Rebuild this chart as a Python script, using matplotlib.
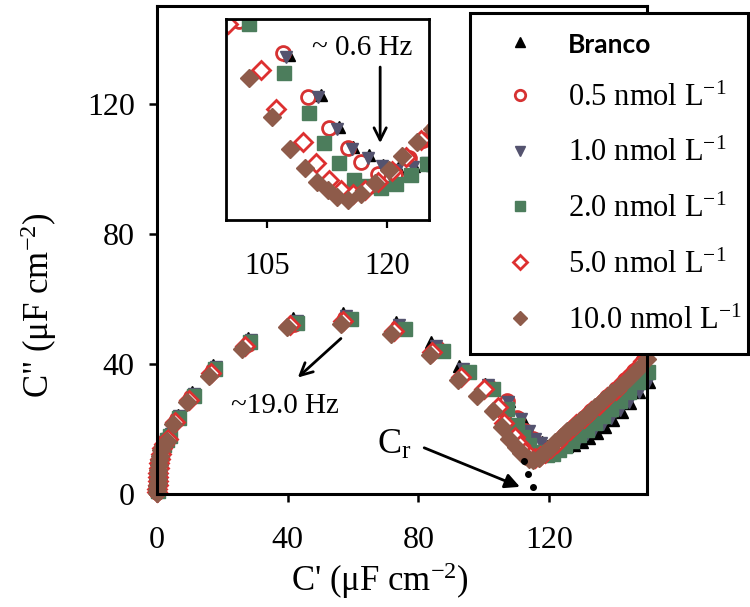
import matplotlib
matplotlib.use("Agg")
import matplotlib.pyplot as plt

plt.rcParams['font.family'] = 'Liberation Serif'
plt.rcParams['mathtext.fontset'] = 'custom'
plt.rcParams['mathtext.rm'] = 'Liberation Serif'
plt.rcParams['mathtext.it'] = 'Liberation Serif:italic'
plt.rcParams['mathtext.bf'] = 'Liberation Serif:bold'

# Complex capacitance plots, C' vs C'' (uF cm-2)
labels = ['Branco', '0.5 nmol L$^{-1}$', '1.0 nmol L$^{-1}$',
          '2.0 nmol L$^{-1}$', '5.0 nmol L$^{-1}$', '10.0 nmol L$^{-1}$']

x_branco = [0.2, 0.3, 0.3, 0.4, 0.5, 0.6, 0.7, 0.9, 1.2, 1.6, 2.2, 2.9,
            4.0, 6.3, 10.6, 17.2, 28.0, 41.5, 56.8, 73.2, 84.0, 92.5, 100.4,
            107.75, 111.75, 114.0, 115.75, 117.75, 119.5, 121.4, 123.4,
            125.6, 127.8, 130.0, 132.3, 134.7, 137.1, 139.6, 142.2, 144.9,
            147.7, 150.5]
y_branco = [1.0, 2.1, 3.3, 4.6, 5.9, 7.3, 8.8, 10.4, 12.1, 13.8, 15.6, 17.3,
            19.0, 24.3, 31.2, 39.6, 48.0, 54.0, 55.5, 53.0, 46.6, 39.2, 33.8,
            28.5, 23.5, 19.5, 17.0, 16.0, 14.75, 14.4, 14.6,
            14.8, 15.2, 16.0, 17.2, 18.7, 20.6, 22.8, 25.3, 28.1,
            31.2, 34.5]

x_05 = [0.1, 0.2, 0.2, 0.3, 0.4, 0.5, 0.6, 0.8, 1.0, 1.4, 1.9, 2.6,
        3.6, 6.0, 10.4, 17.2, 27.8, 42.0, 57.6, 73.8, 85.8, 94.5, 101.5,
        107.0, 110.1, 112.7, 115.1, 116.8, 118.9, 121.0, 122.8, 124.5,
        126.4, 128.5, 130.7, 133.0, 135.4, 137.9, 140.5, 143.2, 146.0, 148.9]
y_05 = [0.7, 1.8, 2.9, 4.1, 5.4, 6.8, 8.2, 9.8, 11.4, 13.0, 14.7, 16.3,
        17.6, 23.0, 29.8, 38.0, 46.2, 52.4, 54.0, 51.4, 44.8, 37.6, 32.8,
        28.7, 23.3, 19.4, 16.9, 15.1, 13.6, 13.5, 15.6, 17.9,
        19.7, 21.5, 23.4, 25.4, 27.5, 29.8, 32.3, 35.0, 37.9, 41.0]

x_10 = [0.2, 0.3, 0.3, 0.4, 0.5, 0.6, 0.8, 1.0, 1.3, 1.7, 2.3, 3.1,
        4.2, 6.8, 11.4, 18.0, 28.8, 42.8, 58.0, 74.2, 85.5, 93.8, 101.2,
        107.4, 111.4, 113.8, 115.6, 117.6, 119.4, 121.3, 123.2, 125.0,
        127.0, 129.2, 131.5, 133.9, 136.4, 139.0, 141.7, 144.5, 147.4, 150.3]
y_10 = [0.9, 2.0, 3.2, 4.4, 5.7, 7.1, 8.6, 10.2, 11.8, 13.5, 15.2, 16.9,
        18.3, 23.9, 30.8, 39.0, 47.3, 53.3, 54.8, 52.0, 45.6, 38.5, 33.6,
        28.2, 23.2, 19.3, 16.8, 15.7, 14.6, 14.2, 14.5, 15.0,
        15.9, 17.0, 18.3, 19.8, 21.5, 23.5, 25.8, 28.4, 31.3, 34.5]

x_20 = [0.2, 0.3, 0.3, 0.4, 0.5, 0.6, 0.7, 0.9, 1.2, 1.6, 2.2, 3.0,
        4.0, 6.6, 11.2, 17.8, 28.6, 43.0, 59.4, 75.8, 87.6, 95.6, 102.8,
        107.1, 110.3, 112.1, 114.0, 115.9, 117.6, 119.3, 121.1, 123.0,
        125.0, 127.1, 129.3, 131.6, 134.0, 136.5, 139.1, 141.8, 144.6,
        147.5, 150.4]
y_20 = [0.8, 1.9, 3.0, 4.2, 5.5, 6.9, 8.4, 10.0, 11.6, 13.3, 15.0, 16.6,
        17.9, 23.5, 30.2, 38.5, 46.7, 52.6, 53.9, 50.8, 44.1, 37.6, 32.4,
        26.2, 21.2, 17.5, 15.0, 12.9, 12.1, 11.9, 12.4, 13.5,
        14.9, 16.4, 18.0, 19.8, 21.8, 23.9, 26.2, 28.7, 31.4,
        34.3, 37.4]

x_50 = [0.1, 0.1, 0.2, 0.2, 0.3, 0.4, 0.5, 0.6, 0.8, 1.1, 1.5, 2.2,
        3.4, 5.5, 9.8, 16.6, 27.0, 40.8, 57.0, 72.4, 84.2, 93.0, 100.2,
        104.3, 106.2, 109.5, 111.1, 112.7, 114.2, 115.7, 117.3, 118.9,
        120.6, 122.4, 124.3, 126.3, 128.4, 130.6, 132.9, 135.3, 137.8,
        140.4, 143.1, 145.9, 148.8]
y_50 = [0.6, 1.6, 2.7, 3.9, 5.1, 6.5, 7.9, 9.4, 10.9, 12.4, 14.0, 15.5,
        17.0, 22.2, 29.0, 37.2, 45.4, 51.9, 53.2, 50.2, 43.5, 36.0, 32.4,
        26.6, 21.8, 17.6, 15.0, 12.9, 11.6, 11.2, 11.6, 12.6,
        14.0, 15.8, 17.9, 19.8, 21.6, 23.5, 25.4, 27.5, 29.7,
        32.1, 34.8, 37.7, 40.8]

x_100 = [0.0, 0.1, 0.1, 0.2, 0.2, 0.3, 0.4, 0.5, 0.7, 0.9, 1.3, 1.9,
         3.0, 5.0, 9.1, 15.8, 26.0, 39.9, 56.3, 71.7, 83.5, 92.2, 98.0,
         102.8, 105.7, 107.9, 109.8, 111.3, 112.6, 113.8, 115.1, 116.8,
         118.5, 120.2, 121.9, 123.7, 125.6, 127.6, 129.7, 131.9, 134.2,
         136.6, 139.1, 141.7, 144.4, 147.2, 150.1]
y_100 = [0.4, 1.3, 2.4, 3.5, 4.7, 6.0, 7.4, 8.8, 10.3, 11.8, 13.4, 14.9,
         16.2, 21.5, 28.2, 36.4, 44.7, 51.3, 52.4, 49.3, 42.6, 35.0, 30.2,
         25.6, 20.7, 16.8, 14.4, 12.7, 11.6, 10.8, 10.4, 11.2,
         12.5, 14.2, 15.9, 17.6, 19.3, 21.0, 22.8, 24.7, 26.7,
         28.8, 31.0, 33.3, 35.8, 38.5, 41.4]

# extrapolation of the low-frequency semicircle down to the real axis
x_cr = [112.2, 113.7, 115.2]
y_cr = [10.2, 6.1, 2.3]

series = [(x_branco, y_branco), (x_05, y_05), (x_10, y_10),
          (x_20, y_20), (x_50, y_50), (x_100, y_100)]
styles = [
    dict(marker='^', color='black', mfc='black', ms=9),
    dict(marker='o', color='#d63232', mfc='white', mew=2.0, ms=10),
    dict(marker='v', color='#54536f', mfc='#54536f', ms=9),
    dict(marker='s', color='#4c7d5c', mfc='#4c7d5c', ms=10),
    dict(marker='D', color='#dd3030', mfc='white', mew=2.0, ms=9),
    dict(marker='D', color='#8e5b4a', mfc='#8e5b4a', ms=9),
]

fig = plt.figure(figsize=(7.5, 6.07), dpi=100)
ax = fig.add_axes([157 / 750, 1 - 494 / 607, 490 / 750, 488 / 607])

handles = []
for (xs, ys), st in zip(series, styles):
    h, = ax.plot(xs, ys, ls='none', clip_on=False, **st)
    handles.append(h)
ax.plot(x_cr, y_cr, ls='none', marker='o', ms=4, color='black', clip_on=False)

ax.set_xlim(0, 150)
ax.set_ylim(0, 150)
ax.set_xticks([0, 40, 80, 120])
ax.set_yticks([0, 40, 80, 120])
ax.tick_params(direction='out', length=6, width=1.8, labelsize=23)
ax.tick_params(axis='x', pad=17)
ax.tick_params(axis='y', pad=10)
for sp in ax.spines.values():
    sp.set_linewidth(2.2)

ax.set_xlabel("C' (\u03bcF cm$^{-2}$)", fontsize=25)
ax.set_ylabel('C" (\u03bcF cm$^{-2}$)', fontsize=25)
ax.xaxis.set_label_coords(0.455, -0.135)
ax.yaxis.set_label_coords(-0.20, 0.387)

arrow = dict(arrowstyle='->', lw=2, color='black',
             mutation_scale=22, shrinkA=0, shrinkB=0)
ax.annotate('', xy=(43.1, 35.8), xytext=(56.3, 47.8), arrowprops=arrow)
ax.text(39.3, 27.2, '~19.0 Hz', fontsize=21, ha='center', va='center')
ax.annotate('', xy=(111.1, 2.2), xytext=(81.8, 14.2),
            arrowprops=dict(arrowstyle='-|>', lw=2, color='black',
                            mutation_scale=22, shrinkA=0, shrinkB=0))
ax.text(72.5, 15.0, 'C$_{\\mathrm{r}}$', fontsize=26, ha='center', va='center')

# zoom on the low-frequency minimum
axin = fig.add_axes([226 / 750, 1 - 220 / 607, 203 / 750, 201 / 607])
for (xs, ys), st in zip(series, styles):
    axin.plot(xs, ys, ls='none', **st)
axin.set_xlim(99.9, 125.25)
axin.set_ylim(7.9, 33.0)
axin.set_xticks([105, 120])
axin.set_yticks([])
axin.tick_params(direction='out', length=6, width=1.6, labelsize=22, pad=17)
for sp in axin.spines.values():
    sp.set_linewidth(2)
axin.annotate('', xy=(119.15, 17.5), xytext=(119.15, 27.0), arrowprops=arrow)
axin.text(116.9, 29.4, '~ 0.6 Hz', fontsize=21, ha='center', va='center')

# legend box fixed to the upper right corner, overlapping the axes frame
leg = fig.legend(handles, labels, loc='upper left', mode='expand',
                 bbox_to_anchor=(470 / 750, 1 - 13 / 607, 278 / 750, 0.0),
                 borderaxespad=0, fontsize=22, frameon=True, fancybox=False,
                 framealpha=1, edgecolor='black', borderpad=0.6,
                 labelspacing=0.87, handlelength=2.1, handletextpad=0.5,
                 markerscale=0.75)
leg.get_frame().set_linewidth(2.2)
leg.get_texts()[0].set_fontfamily('Lato')
leg.get_texts()[0].set_fontweight('bold')
leg.get_texts()[0].set_fontsize(19)

fig.savefig('out.png', dpi=100)
